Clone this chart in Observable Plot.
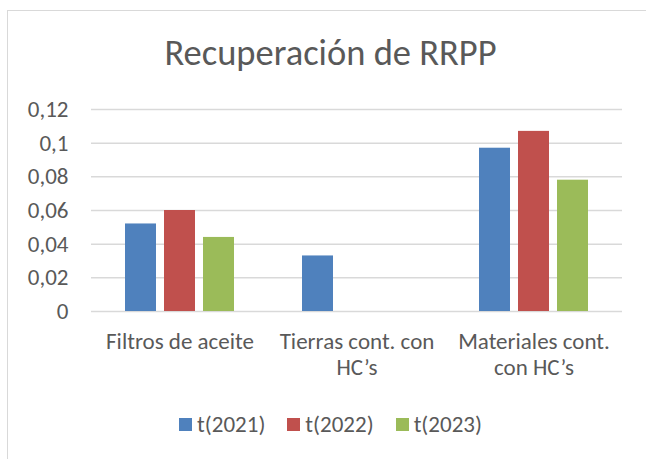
<!DOCTYPE html>
<html>
<head>
<meta charset="utf-8">
<script src="https://cdn.jsdelivr.net/npm/d3@7"></script>
<script src="https://cdn.jsdelivr.net/npm/@observablehq/plot@0.6"></script>
<style>
  html, body { margin: 0; padding: 0; background: #fff; overflow: hidden; }
  #frame {
    position: absolute; left: 7px; top: 10px; width: 700px; height: 520px;
    border: 1.5px solid #d9d9d9; box-sizing: border-box; background: #fff;
    font-family: Carlito, Calibri, Lato, sans-serif; color: #595959;
  }
  #title { width: 645px; height: 74px; box-sizing: border-box; padding-top: 24px; text-align: center;
    font-size: 36.5px; line-height: 36.5px; }
  #chart svg text { font-size: 23px !important; }
  #legend { width: 645px; display: flex; justify-content: center; gap: 22px; padding-top: 18px; font-size: 23px; line-height: 23px; }
  #legend .item { display: flex; align-items: center; gap: 5px; }
  #legend .sw { width: 13px; height: 13px; display: inline-block; }
</style>
</head>
<body>
<div id="frame">
  <div id="title">Recuperación de RRPP</div>
  <div id="chart"></div>
  <div id="legend"></div>
</div>
<script>
const categories = ["Filtros de aceite", "Tierras cont. con HC’s", "Materiales cont. con HC’s"];
const categoryLabels = ["Filtros de aceite", "Tierras cont. con\nHC’s", "Materiales cont.\ncon HC’s"];
const series = ["t(2021)", "t(2022)", "t(2023)"];
const v2021 = [0.052, 0.033, 0.097];
const v2022 = [0.060, null, 0.107];
const v2023 = [0.044, null, 0.078];
const colors = ["#4F81BD", "#C0504D", "#9BBB59"];
const yTicks = [0, 0.02, 0.04, 0.06, 0.08, 0.1, 0.12];

const seriesValues = [v2021, v2022, v2023];
const data = [];
categories.forEach((c, i) => {
  series.forEach((s, j) => {
    const v = seriesValues[j][i];
    if (v != null) data.push({category: c, series: s, value: v});
  });
});

const fxFormat = d => categoryLabels[categories.indexOf(d)];
const hasAxisMarks = typeof Plot.axisFx === "function";
const fxOptions = hasAxisMarks
  ? {domain: categories, padding: 0}
  : {domain: categories, padding: 0, axis: "bottom", label: null, tickSize: 0, tickPadding: 20, tickFormat: fxFormat};

const marks = [
  Plot.ruleY(yTicks, {stroke: "#d9d9d9", strokeWidth: 1.5}),
  Plot.barY(data, {fx: "category", x: "series", y: "value", fill: "series"})
];
if (hasAxisMarks) {
  marks.push(Plot.axisFx({anchor: "bottom", label: null, tickSize: 0, tickPadding: 20,
    lineHeight: 1.1, tickFormat: fxFormat, fill: "#595959"}));
}

const chart = Plot.plot({
  width: 645,
  height: 310,
  marginTop: 24,
  marginBottom: 84,
  marginLeft: 82,
  marginRight: 30,
  style: {fontFamily: "Carlito, Calibri, Lato, sans-serif", fontSize: "23px", color: "#595959", background: "transparent"},
  fx: fxOptions,
  x: {domain: series, axis: null, paddingInner: 0.205, paddingOuter: 0.87},
  y: {domain: [0, 0.12], ticks: yTicks, tickSize: 0, tickPadding: 23, label: null,
      tickFormat: d => String(d).replace(".", ",")},
  color: {domain: series, range: colors},
  marks
});
document.getElementById("chart").appendChild(chart);

const legend = document.getElementById("legend");
series.forEach((s, j) => {
  const item = document.createElement("div");
  item.className = "item";
  const sw = document.createElement("span");
  sw.className = "sw";
  sw.style.background = colors[j];
  const t = document.createElement("span");
  t.textContent = s;
  item.appendChild(sw);
  item.appendChild(t);
  legend.appendChild(item);
});
</script>
</body>
</html>
